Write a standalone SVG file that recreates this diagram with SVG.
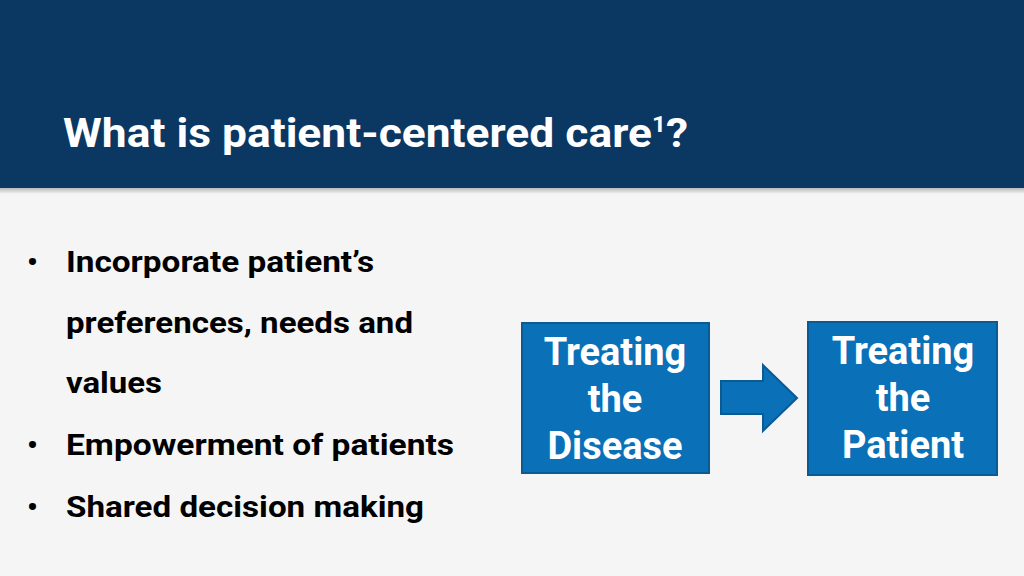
<svg xmlns="http://www.w3.org/2000/svg" width="1024" height="576" viewBox="0 0 1024 576">
<defs>
<style>
.t{font-family:Roboto,"Liberation Sans",sans-serif;font-weight:bold;fill:#000}
.b{font-family:Roboto,"Liberation Sans",sans-serif;font-weight:bold;fill:#fff;font-size:38px;text-anchor:middle}
.box{fill:#0a70b8;stroke:#0a5a94;stroke-width:2}
</style>
<linearGradient id="sh" x1="0" y1="0" x2="0" y2="1"><stop offset="0" stop-color="#000" stop-opacity="0.25"/><stop offset="1" stop-color="#000" stop-opacity="0"/></linearGradient>
</defs>
<rect width="1024" height="576" fill="#f5f5f5"/>
<rect y="188" width="1024" height="6" fill="url(#sh)"/>
<rect width="1024" height="188" fill="#0b3763"/>
<text x="63" y="147" font-family="Roboto,'Liberation Sans',sans-serif" font-weight="bold" font-size="40" fill="#fff" textLength="625" lengthAdjust="spacingAndGlyphs">What is patient-centered care<tspan font-size="22" dy="-15">1</tspan><tspan dy="15">?</tspan></text>
<g class="t" font-size="30">
<text x="27" y="272">•</text><text x="66" y="272" textLength="308" lengthAdjust="spacingAndGlyphs">Incorporate patient’s</text>
<text x="66" y="333" textLength="347" lengthAdjust="spacingAndGlyphs">preferences, needs and</text>
<text x="66" y="393" textLength="96" lengthAdjust="spacingAndGlyphs">values</text>
<text x="27" y="455">•</text><text x="66" y="455" textLength="388" lengthAdjust="spacingAndGlyphs">Empowerment of patients</text>
<text x="27" y="517">•</text><text x="66" y="517" textLength="358" lengthAdjust="spacingAndGlyphs">Shared decision making</text>
</g>
<g id="n1"><rect class="box" x="522" y="323" width="187" height="150"/>
<text class="b" x="615" y="365">Treating</text><text class="b" x="615" y="412">the</text><text class="b" x="615" y="459">Disease</text></g>
<g id="n2"><rect class="box" x="808" y="322" width="189" height="153"/>
<text class="b" x="903" y="364">Treating</text><text class="b" x="903" y="411">the</text><text class="b" x="903" y="458">Patient</text></g>
<g id="connectors"><polygon class="box" points="721,381 763,381 763,365 797,398 763,431 763,414 721,414"/></g>
</svg>
